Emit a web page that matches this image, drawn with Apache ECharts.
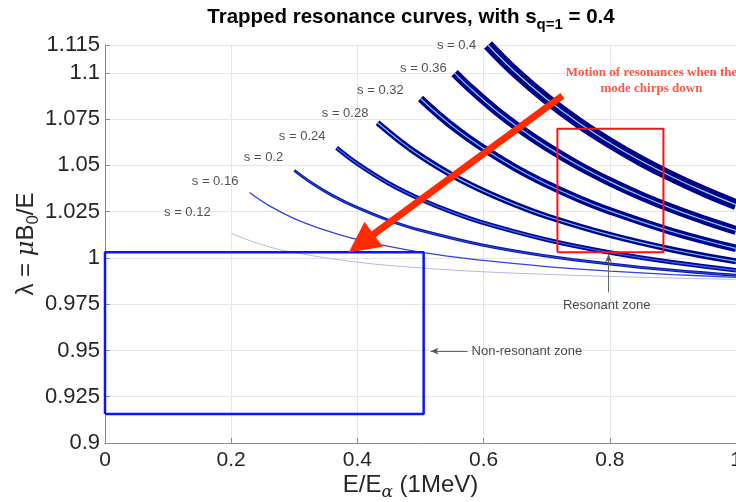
<!DOCTYPE html>
<html>
<head>
<meta charset="utf-8">
<script src="https://cdn.jsdelivr.net/npm/echarts@6.0.0/dist/echarts.min.js"></script>
<style>
  html, body { margin: 0; padding: 0; background: #fff; }
  #chart_res { width: 736px; height: 502px; }
</style>
</head>
<body>
<div id="chart_res"></div>
<script>
// values
var sValues = [0.12, 0.16, 0.2, 0.24, 0.28, 0.32, 0.36, 0.4];
var curveEnergy = [
  [0.2, 0.25, 0.3, 0.4, 0.5, 0.6, 0.7, 0.8, 0.9, 1.0],
  [0.229, 0.26, 0.3, 0.35, 0.4, 0.5, 0.6, 0.7, 0.8, 0.9, 1.0],
  [0.3, 0.33, 0.36, 0.4, 0.45, 0.5, 0.6, 0.7, 0.8, 0.9, 1.0],
  [0.367, 0.4, 0.45, 0.5, 0.55, 0.6, 0.7, 0.8, 0.9, 1.0],
  [0.432, 0.47, 0.5, 0.55, 0.6, 0.65, 0.7, 0.8, 0.9, 1.0],
  [0.5, 0.53, 0.56, 0.6, 0.65, 0.7, 0.75, 0.8, 0.9, 1.0],
  [0.554, 0.58, 0.62, 0.66, 0.7, 0.75, 0.8, 0.85, 0.9, 0.95, 1.0],
  [0.607, 0.65, 0.7, 0.75, 0.8, 0.85, 0.9, 0.95, 1.0]
];
var curveLambda = [
  [1.0132, 1.0070, 1.0029, 0.9977, 0.9946, 0.9925, 0.9911, 0.9900, 0.9891, 0.9884],
  [1.0353, 1.0282, 1.0212, 1.0148, 1.0099, 1.0031, 0.9986, 0.9953, 0.9929, 0.9910, 0.9895],
  [1.0473, 1.0399, 1.0338, 1.0271, 1.0203, 1.0149, 1.0068, 1.0010, 0.9967, 0.9933, 0.9906],
  [1.0595, 1.0509, 1.0402, 1.0317, 1.0247, 1.0189, 1.0098, 1.0029, 0.9976, 0.9933],
  [1.0730, 1.0624, 1.0551, 1.0447, 1.0361, 1.0288, 1.0225, 1.0124, 1.0044, 0.9981],
  [1.0861, 1.0769, 1.0687, 1.0591, 1.0487, 1.0398, 1.0321, 1.0254, 1.0141, 1.0051],
  [1.0998, 1.0913, 1.0795, 1.0692, 1.0601, 1.0500, 1.0412, 1.0334, 1.0265, 1.0204, 1.0148],
  [1.1150, 1.1004, 1.0858, 1.0731, 1.0621, 1.0523, 1.0436, 1.0358, 1.0288]
];
// where each "s = .." text sits (right end of the text)
var labelEnergy = [0.169, 0.213, 0.284, 0.351, 0.419, 0.475, 0.543, 0.590];
var labelLambda = [1.0245, 1.0412, 1.0542, 1.0655, 1.0779, 1.0903, 1.1022, 1.1146];
// zones
var nonResonantBox = [[0, 0.9156], [0.505, 0.9156], [0.505, 1.003], [0, 1.003], [0, 0.9156]];
var resonantBox = [[0.717, 1.003], [0.885, 1.003], [0.885, 1.0698], [0.717, 1.0698], [0.717, 1.003]];
var chirpArrow = [[0.725, 1.0876], [0.406, 1.0078]];

// band styles, same order as sValues
var bandWidth = [1, 1.3, 3, 4.5, 6, 7.5, 9, 11];
var bandColor = ['#b3b8ea', '#3443d8', '#0a1aa8', '#00089a', '#000090', '#000090', '#00008c', '#00008a'];
var coreWidth = [0, 0, 1, 1.2, 1.2, 1.2, 1.2, 1.2];
var coreColor = ['', '', '#2a40e8', '#3a66f0', '#5fd0ea', '#5fd0ea', '#6fd8e6', '#7fdcd8'];

var FONT = 'Liberation Sans, Helvetica, Arial, sans-serif';

var series = [];
sValues.forEach(function (s, i) {
  var pts = curveEnergy[i].map(function (e, j) { return [e, curveLambda[i][j]]; });
  series.push({
    type: 'line', data: pts, smooth: 0.4, showSymbol: false, silent: true, z: 2,
    lineStyle: { width: bandWidth[i], color: bandColor[i] }
  });
  if (coreWidth[i]) {
    series.push({
      type: 'line', data: pts, smooth: 0.4, showSymbol: false, silent: true, z: 3,
      lineStyle: { width: coreWidth[i], color: coreColor[i] }
    });
  }
});

// s = .. texts
series.push({
  type: 'scatter', symbolSize: 0, silent: true, z: 6,
  data: sValues.map(function (s, i) { return { value: [labelEnergy[i], labelLambda[i]], name: 's = ' + s }; }),
  label: { show: true, position: 'left', distance: 1, formatter: '{b}', fontSize: 13, color: '#262626', fontFamily: FONT }
});

// boxes
series.push({
  type: 'line', data: nonResonantBox, showSymbol: false, silent: true, z: 4,
  lineStyle: { width: 2.5, color: '#0a14ff' }
});
series.push({
  type: 'line', data: resonantBox, showSymbol: false, silent: true, z: 4,
  lineStyle: { width: 2, color: '#ff1010' }
});

// arrows
series.push({
  type: 'line', data: [], silent: true, z: 7,
  markLine: {
    silent: true, animation: false, label: { show: false },
    data: [
      [{ coord: chirpArrow[0], symbol: 'none', lineStyle: { color: '#ff2a00', width: 7, type: 'solid' } },
       { coord: chirpArrow[1], symbol: 'triangle', symbolSize: [31, 31] }],
      [{ coord: [0.798, 0.9814], symbol: 'none', lineStyle: { color: '#555', width: 0.9, type: 'solid' } },
       { coord: [0.798, 1.0019], symbol: 'arrow', symbolSize: [5, 8] }],
      [{ coord: [0.5745, 0.9496], symbol: 'none', lineStyle: { color: '#555', width: 0.9, type: 'solid' } },
       { coord: [0.516, 0.9496], symbol: 'arrow', symbolSize: [5, 8] }]
    ]
  }
});

// notes
series.push({
  type: 'scatter', symbolSize: 0, silent: true, z: 8,
  data: [
    { value: [0.866, 1.0957], label: { formatter: 'Motion of resonances when the\nmode chirps down', fontFamily: 'Liberation Serif, Times New Roman, serif', fontWeight: 'bold', fontSize: 13, lineHeight: 16, color: '#ff2a1a', align: 'center' } },
    { value: [0.795, 0.9744], label: { formatter: 'Resonant zone', align: 'center' } },
    { value: [0.5809, 0.9496], label: { formatter: 'Non-resonant zone', align: 'left' } }
  ],
  label: { show: true, position: [0, 0], verticalAlign: 'middle', fontSize: 13, color: '#1a1a1a', fontFamily: FONT }
});

var chart = echarts.init(document.getElementById('chart_res'));
chart.setOption({
  animation: false,
  backgroundColor: '#fff',
  title: {
    text: '{b|Trapped resonance curves, with s}{sub|q=1}{b| = 0.4}',
    left: 406, top: -3, textAlign: 'center',
    textStyle: {
      rich: {
        b: { fontSize: 20.5, fontWeight: 'bold', fontFamily: FONT, color: '#000' },
        sub: { fontSize: 15, fontWeight: 'bold', fontFamily: FONT, color: '#000', padding: [15, 0, 0, 0] }
      }
    }
  },
  grid: { left: 105, right: 0, top: 45, bottom: 59, containLabel: false, outerBoundsMode: 'none' },
  xAxis: {
    type: 'value', min: 0, max: 1, interval: 0.2,
    name: '{m|E/E}{sub|α}{m| (1MeV)}', nameLocation: 'middle', nameGap: 27, nameMoveOverlap: false,
    nameTextStyle: { padding: [0, 20, 0, 0], rich: {
      m: { fontSize: 24, fontFamily: FONT, color: '#262626' },
      sub: { fontSize: 17, fontFamily: 'DejaVu Serif, serif', fontStyle: 'italic', color: '#262626', padding: [14, 0, 0, 0] }
    } },
    axisLine: { show: true, onZero: false, lineStyle: { color: '#8a8a8a' } },
    axisTick: { show: true, inside: true, length: 5, lineStyle: { color: '#8a8a8a' } },
    axisLabel: { fontSize: 21, color: '#262626', fontFamily: FONT, margin: 7 },
    splitLine: { show: true, lineStyle: { color: '#e6e6e6' } }
  },
  yAxis: {
    type: 'value', min: 0.9, max: 1.115, interval: 0.025,
    name: '{m|λ = }{g|μ}{m|B}{sub|0}{m|/E}', nameLocation: 'middle', nameGap: 63, nameRotate: 90, nameMoveOverlap: false,
    nameTextStyle: { rich: {
      m: { fontSize: 24, fontFamily: FONT, color: '#262626' },
      g: { fontSize: 24, fontFamily: 'DejaVu Serif, serif', fontStyle: 'italic', color: '#262626' },
      sub: { fontSize: 17, fontFamily: FONT, color: '#262626', padding: [14, 0, 0, 0] }
    } },
    axisLine: { show: true, onZero: false, lineStyle: { color: '#8a8a8a' } },
    axisTick: { show: true, inside: true, length: 5, lineStyle: { color: '#8a8a8a' } },
    axisLabel: {
      fontSize: 22, color: '#262626', fontFamily: FONT, margin: 5,
      formatter: function (v) { return String(parseFloat(v.toFixed(3))); }
    },
    splitLine: { show: true, lineStyle: { color: '#e6e6e6' } }
  },
  series: series
});
</script>
</body>
</html>
